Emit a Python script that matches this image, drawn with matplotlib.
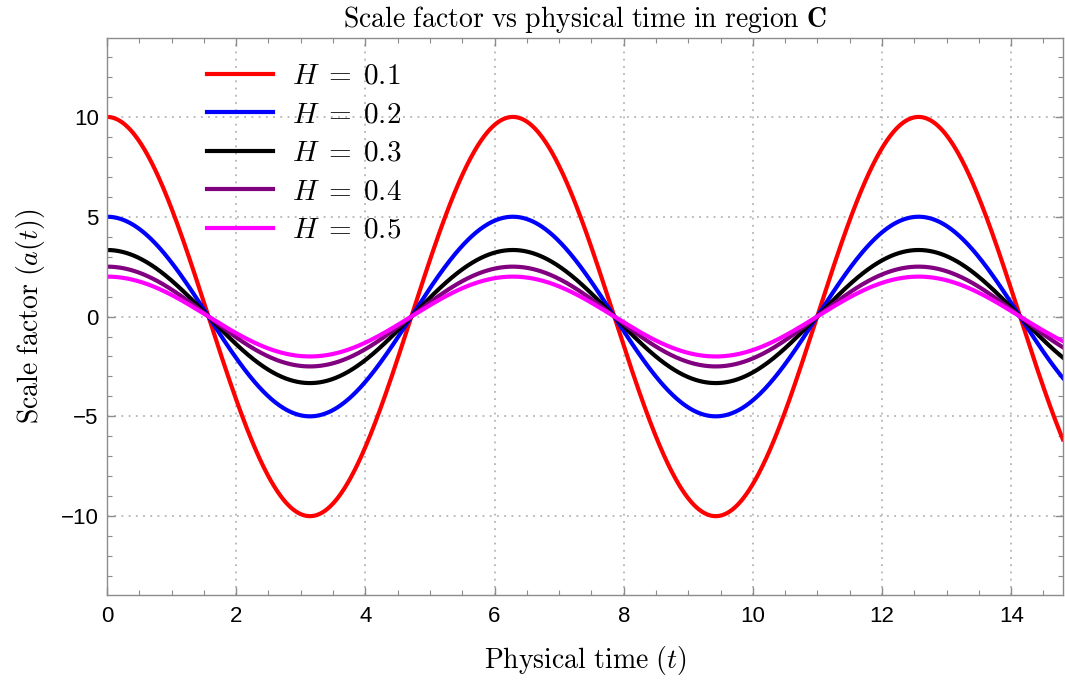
import numpy as np
import matplotlib
matplotlib.use("Agg")
import matplotlib.pyplot as plt
from matplotlib.ticker import MultipleLocator

# Hubble-like parameters for each curve, a(t) = cos(t) / H
H_VALUES = [0.1, 0.2, 0.3, 0.4, 0.5]
COLORS = ["#ff0000", "#0000ff", "#000000", "#800080", "#ff00ff"]
T_MAX = 14.8
X_TICKS = [0, 2, 4, 6, 8, 10, 12, 14]
Y_TICKS = [-10, -5, 0, 5, 10]

plt.rcParams["mathtext.fontset"] = "cm"
plt.rcParams["font.family"] = ["Liberation Sans", "DejaVu Sans"]
plt.rcParams["axes.unicode_minus"] = True

fig = plt.figure(figsize=(10.65, 6.8), dpi=100)
ax = fig.add_axes([0.1005, 0.125, 0.8975, 0.819])

t = np.linspace(0, T_MAX, 1500)
for H, col in zip(H_VALUES, COLORS):
    ax.plot(t, np.cos(t) / H, color=col, lw=3.0, label=rf"$H\;=\;{H}$")

ax.set_xlim(0, T_MAX)
ax.set_ylim(-13.95, 13.95)
ax.set_xticks(X_TICKS)
ax.set_yticks(Y_TICKS)
ax.xaxis.set_minor_locator(MultipleLocator(0.5))
ax.yaxis.set_minor_locator(MultipleLocator(1))

spine_col = "#8c8c8c"
for s in ax.spines.values():
    s.set_color(spine_col)
    s.set_linewidth(1.0)
ax.tick_params(which="both", direction="in", color=spine_col, top=True, right=True,
               labelsize=16, labelcolor="black")
ax.tick_params(axis="x", pad=8)
ax.tick_params(axis="y", pad=6)
ax.tick_params(which="major", length=6, width=1.0)
ax.tick_params(which="minor", length=3.5, width=0.8)

ax.grid(True, which="major", color="#b4b4b4", linestyle=(0, (1, 3)), linewidth=1.3)

ax.set_title(r"$\mathrm{Scale\ factor\ vs\ physical\ time\ in\ region\ }\mathbf{C}$",
             fontsize=20, pad=8)
ax.set_xlabel(r"$\mathrm{Physical\ time}\ (t)$", fontsize=20, labelpad=12)
ax.set_ylabel(r"$\mathrm{Scale\ factor}\ (a(t))$", fontsize=20, labelpad=10)

ax.legend(loc="upper left", bbox_to_anchor=(0.08, 1.0), frameon=False, fontsize=21,
          handlelength=2.25, handletextpad=0.65, labelspacing=0.36, borderaxespad=0.42)

fig.savefig("out.png", dpi=100)
